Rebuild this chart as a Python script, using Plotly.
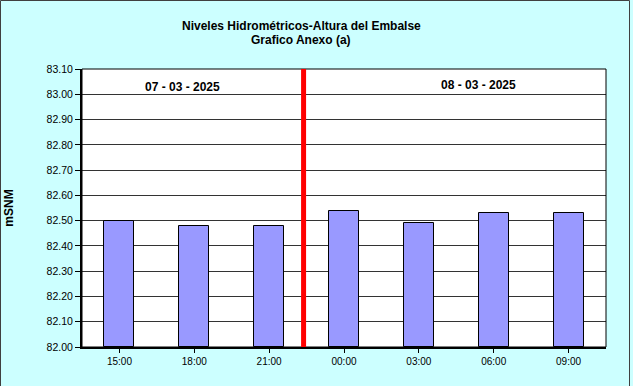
import plotly.graph_objects as go

categories = ["15:00", "18:00", "21:00", "00:00", "03:00", "06:00", "09:00"]
values = [82.50, 82.48, 82.48, 82.54, 82.49, 82.53, 82.53]
date_labels = ["07 - 03 - 2025", "08 - 03 - 2025"]
title_lines = ["Niveles Hidrométricos-Altura del Embalse", "Grafico Anexo (a)"]
y_title = "mSNM"
y_ticks = [82.0 + 0.1 * i for i in range(12)]

W, H = 633, 386
L, R, T, B = 82, 27, 69, 39
pw, ph = W - L - R, H - T - B

fig = go.Figure()
fig.add_trace(go.Bar(
    x=list(range(len(categories))), y=[v - 82.0 for v in values], base=82.0,
    width=0.4, marker=dict(color="#9999FF", line=dict(color="#000000", width=1)),
    hoverinfo="skip",
))

fig.update_layout(
    width=W, height=H, margin=dict(l=L, r=R, t=T, b=B, autoexpand=False),
    paper_bgcolor="#CCFFFF", plot_bgcolor="#FFFFFF",
    showlegend=False, bargap=0,
    font=dict(family="Liberation Sans, Arial, sans-serif", size=10, color="#000000"),
    xaxis=dict(range=[-0.5, len(categories) - 0.5], tickmode="array",
               tickvals=list(range(len(categories))), ticktext=categories,
               showgrid=False, showline=True, linecolor="#000000", linewidth=2,
               ticks="outside", tickson="boundaries", ticklen=4, tickcolor="#000000",
               tickfont=dict(size=10), zeroline=False, automargin=False),
    yaxis=dict(range=[82.0, 83.1], tickmode="array", tickvals=y_ticks,
               ticktext=[f"{v:.2f}" for v in y_ticks],
               showgrid=True, gridcolor="#333333", gridwidth=1,
               showline=True, linecolor="#000000", linewidth=2,
               ticks="outside", ticklen=5, tickcolor="#000000",
               tickfont=dict(size=10.5), zeroline=False, automargin=False,
               title=dict(text="<b>" + y_title + "</b>", font=dict(size=12), standoff=30)),
)

# plot area border
fig.add_shape(type="rect", xref="paper", yref="paper", x0=0, x1=1, y0=0, y1=1,
              line=dict(color="#000000", width=1), layer="above")
# outer chart border
fig.add_shape(type="rect", xref="paper", yref="paper",
              x0=-(L - 0.5) / pw, x1=(W - 3.5 - L) / pw,
              y0=-(B + 5) / ph, y1=1 + (T - 0.5) / ph,
              line=dict(color="#404040", width=1), layer="above")
# red separator between days
fig.add_shape(type="line", xref="x", yref="paper", x0=2.46, x1=2.46, y0=0, y1=1,
              line=dict(color="#FF0000", width=5), layer="above")

# title lines
for txt, ypix in zip(title_lines, [26, 40]):
    fig.add_annotation(text="<b>" + txt + "</b>", xref="paper", yref="paper",
                       x=(301 - L) / pw, y=(H - B - ypix) / ph, showarrow=False,
                       font=dict(size=12), xanchor="center", yanchor="middle")

fig.add_annotation(text="<b>" + date_labels[0] + "</b>", xref="paper", yref="paper",
                   x=(182 - L) / pw, y=(H - B - 87) / ph, showarrow=False,
                   font=dict(size=12), xanchor="center", yanchor="middle")
fig.add_annotation(text="<b>" + date_labels[1] + "</b>", xref="paper", yref="paper",
                   x=(478 - L) / pw, y=(H - B - 85) / ph, showarrow=False,
                   font=dict(size=12), xanchor="center", yanchor="middle")

fig.write_html("out.html", config={"displayModeBar": False},
               post_script="document.body.style.margin='0';")
